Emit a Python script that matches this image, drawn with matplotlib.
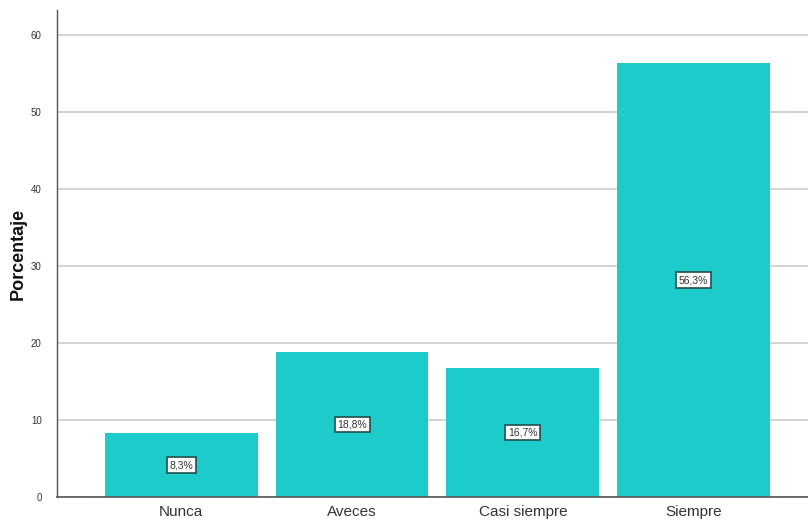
import matplotlib
matplotlib.use("Agg")
import matplotlib.pyplot as plt

categories = ["Nunca", "Aveces", "Casi siempre", "Siempre"]
percentages = [8.3, 18.8, 16.7, 56.3]
labels = ["8,3%", "18,8%", "16,7%", "56,3%"]
yticks = [0, 10, 20, 30, 40, 50, 60]

narrow = ["Liberation Sans Narrow", "Liberation Sans", "DejaVu Sans"]

fig = plt.figure(figsize=(8.08, 5.26), dpi=100)
ax = fig.add_axes([57/808, 1-497/526, 1-57/808, (497-10)/526])

x = list(range(len(categories)))
ax.bar(x, percentages, width=0.895, color="#1ECBCB", zorder=2)

for xi, v, lab in zip(x, percentages, labels):
    ax.text(xi, v/2, lab, ha="center", va="center", fontsize=7.5,
            family=narrow, color="#333333", zorder=3,
            bbox=dict(boxstyle="square,pad=0.25", fc="white", ec="#1f4f4f", lw=1.2))

ax.set_xlim(-0.728, 3.67)
ax.set_ylim(0, 63.2)
ax.set_yticks(yticks)
ax.set_yticklabels([str(t) for t in yticks], fontsize=7, family=narrow, color="#333333")
ax.set_xticks(x)
ax.set_xticklabels(categories, fontsize=11, family=narrow, color="#333333")
ax.tick_params(axis="x", length=0, pad=6)
ax.tick_params(axis="y", length=0, pad=11)

ax.yaxis.grid(True, color="#cccccc", lw=1.2, zorder=0)
ax.set_axisbelow(True)
for s in ["top", "right"]:
    ax.spines[s].set_visible(False)
ax.spines["left"].set_color("#555555")
ax.spines["bottom"].set_color("#555555")
ax.spines["left"].set_linewidth(1.0)
ax.spines["bottom"].set_linewidth(1.2)

ax.set_ylabel("Porcentaje", fontsize=13, fontweight="bold", labelpad=3,
              color="#111111", family=narrow)

fig.savefig("out.png", dpi=100)
